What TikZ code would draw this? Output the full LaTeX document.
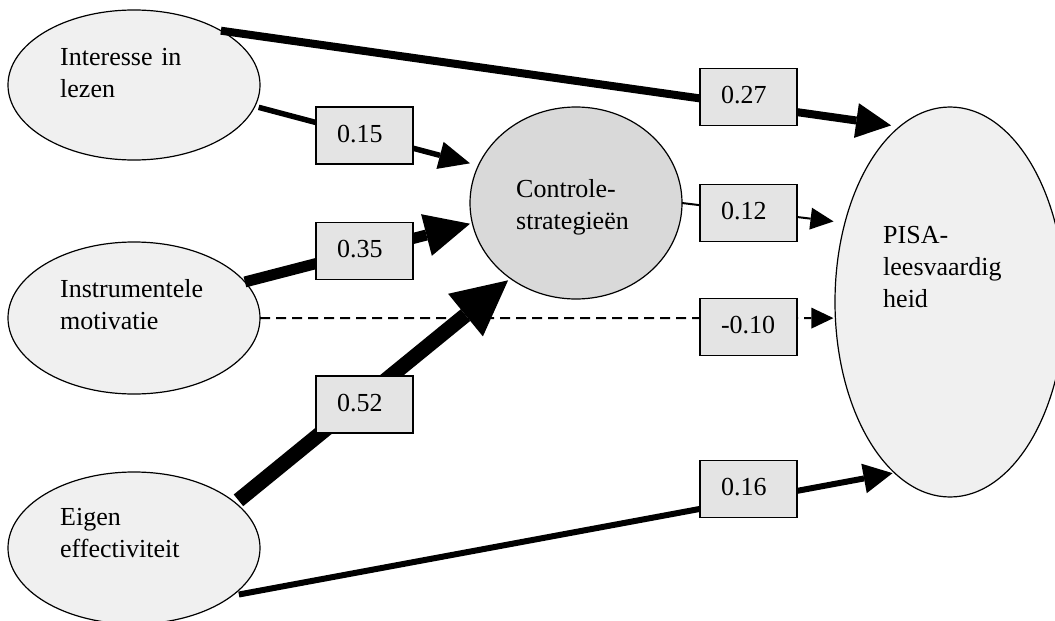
\documentclass[tikz,border=0pt]{standalone}
\usepackage{fontspec}
\setmainfont{Liberation Serif}
\usetikzlibrary{arrows.meta,shapes.geometric}
\definecolor{ellfill}{HTML}{F0F0F0}
\definecolor{ctrlfill}{HTML}{D9D9D9}
\definecolor{boxfill}{HTML}{E4E4E4}
\begin{document}
\begin{tikzpicture}[x=1pt,y=-1pt,
  latent/.style={ellipse, draw, line width=1.2pt, fill=ellfill, inner sep=0pt, outer sep=0pt},
  lbl/.style={anchor=base west, inner sep=0pt, text width=200pt, align=left, font=\fontsize{26}{32}\selectfont},
  coef/.style={rectangle, draw, line width=1.2pt, fill=boxfill, inner xsep=21pt, inner ysep=0pt,
    text width=55pt, align=left, text height=35pt, text depth=22pt, font=\fontsize{26}{32}\selectfont},
  conn/.style={draw=black}
]
\useasboundingbox (0,0) rectangle (1055,621);

% latent variables
\node[latent, minimum width=252pt, minimum height=150pt] (int) at (134,85) {};
\node[latent, minimum width=252pt, minimum height=152pt] (ins) at (134,318) {};
\node[latent, minimum width=252pt, minimum height=152pt] (eig) at (134,548) {};
\node[latent, fill=ctrlfill, minimum width=212pt, minimum height=192pt] (ctrl) at (576,203) {};
\node[latent, minimum width=230pt, minimum height=390pt] (pisa) at (950,302) {};

% texts
\node[lbl] (tint) at (60,65) {Interesse in\\lezen};
\node[lbl] (tins) at (60,297) {Instrumentele\\motivatie};
\node[lbl] (teig) at (60,525) {Eigen\\effectiviteit};
\node[lbl] (tctrl) at (516,197) {Controle-\\strategieën};
\node[lbl] (tpisa) at (883,243) {PISA-\\leesvaardig\\heid};

% connectors
\draw[conn, line width=8pt, -{Triangle[length=35pt,width=35pt,line width=0pt]}, shorten >=8.7pt] (int.32) -- (pisa.106);
\draw[conn, line width=5.5pt, -{Triangle[length=31pt,width=28pt,line width=0pt]}, shorten <=4pt, shorten >=8.7pt] (int.-10) -- (ctrl.159);
\draw[conn, line width=11pt, -{Triangle[length=45pt,width=43pt,line width=0pt]}, shorten >=2.4pt] (ins.18) -- (ctrl.191);
\draw[conn, line width=15pt, -{Triangle[length=55pt,width=55pt,line width=0pt]}, shorten <=4pt, shorten >=3pt] (eig.24) -- (ctrl.229);
\draw[conn, line width=6pt, -{Triangle[length=29pt,width=30pt,line width=0pt]}, shorten <=7pt, shorten >=2pt] (eig.-26) -- (pisa.-108);
\draw[conn, line width=2pt, -{Triangle[length=23pt,width=22pt,line width=0pt]}, shorten >=11.5pt] (ctrl.east) -- (pisa.143);
\draw[conn, line width=2pt, dash pattern=on 10pt off 6pt, -{Triangle[length=22pt,width=21pt,line width=0pt]}, shorten >=2pt] (ins.east) -- (pisa.188);

% coefficient boxes
\node[coef] (c027) at (748.5,97) {0.27};
\node[coef] (c015) at (364.5,135.5) {0.15};
\node[coef] (c012) at (748.5,213) {0.12};
\node[coef] (c035) at (364.5,251) {0.35};
\node[coef] (c010) at (748.5,327) {-0.10};
\node[coef] (c052) at (364.5,404.5) {0.52};
\node[coef] (c016) at (748.5,489) {0.16};
\end{tikzpicture}
\end{document}
